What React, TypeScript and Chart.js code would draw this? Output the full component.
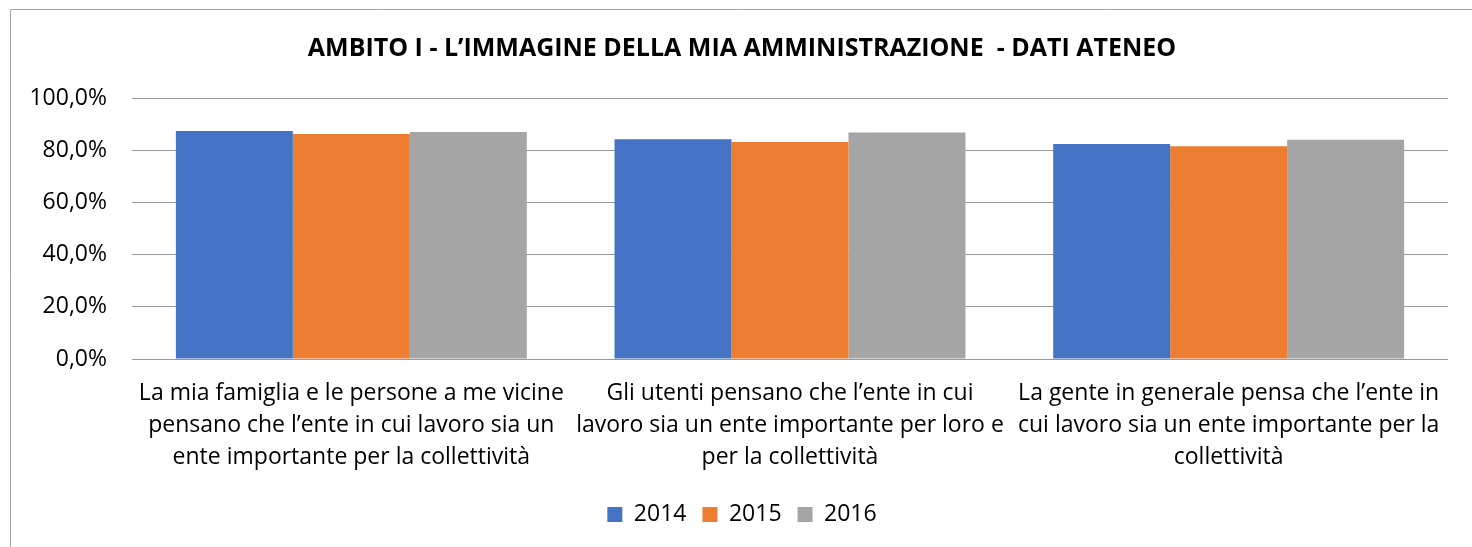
import React, { useEffect, useRef } from "react";
import { Chart, registerables } from "chart.js";

Chart.register(...registerables);

const titleText = "AMBITO I - L\u2019IMMAGINE DELLA MIA AMMINISTRAZIONE  - DATI ATENEO";
const categories: string[][] = [
  ["La mia famiglia e le persone a me vicine", "pensano che l\u2019ente in cui lavoro sia un", "ente importante per la collettività"],
  ["Gli utenti pensano che l\u2019ente in cui", "lavoro sia un ente importante per loro e", "per la collettività"],
  ["La gente in generale pensa che l\u2019ente in", "cui lavoro sia un ente importante per la", "collettività"],
];
const seriesNames = ["2014", "2015", "2016"];
const values2014 = [87.4, 84.2, 82.4];
const values2015 = [86.2, 83.1, 81.5];
const values2016 = [87.0, 86.8, 84.0];
const seriesColors = ["#4472C4", "#ED7D31", "#A5A5A5"];

const FONT = "'Open Sans', sans-serif";

const framePlugin = {
  id: "frame",
  afterLayout(chart: any) {
    // let y tick labels extend into the left padding without clipping
    if (chart.scales.y) chart.scales.y.left = 0;
  },
  beforeDraw(chart: any) {
    const ctx = chart.ctx;
    ctx.save();
    ctx.strokeStyle = "#a6a6a6";
    ctx.lineWidth = 1;
    ctx.beginPath();
    ctx.moveTo(10.5, chart.height + 5);
    ctx.lineTo(10.5, 9.5);
    ctx.lineTo(chart.width + 5, 9.5);
    ctx.stroke();
    ctx.restore();
  },
};

export default function App() {
  const ref = useRef<HTMLCanvasElement>(null);
  useEffect(() => {
    if (!ref.current) return;
    const data = [values2014, values2015, values2016];
    const chart = new Chart(ref.current, {
      type: "bar",
      data: {
        labels: categories,
        datasets: seriesNames.map((n, i) => ({
          label: n,
          data: data[i],
          backgroundColor: seriesColors[i],
          borderWidth: 0,
          categoryPercentage: 0.8,
          barPercentage: 1.0,
        })),
      },
      options: {
        animation: false,
        responsive: false,
        maintainAspectRatio: false,
        layout: { padding: { left: 36, right: 24, top: 0, bottom: 11 } },
        plugins: {
          title: {
            display: true,
            text: titleText,
            color: "#000",
            font: { family: FONT, size: 25, weight: "bold" },
            padding: { top: 34, bottom: 34 },
          },
          legend: {
            position: "bottom",
            labels: {
              color: "#000",
              font: { family: FONT, size: 23 },
              boxWidth: 15,
              boxHeight: 15,
              padding: 16,
            },
          },
          tooltip: { enabled: false },
        },
        scales: {
          x: {
            grid: { display: false },
            border: { display: false },
            ticks: {
              color: "#000",
              font: { family: FONT, size: 23, lineHeight: 1.4 },
              maxRotation: 0,
              autoSkip: false,
              padding: 10,
            },
            afterFit(scale: any) {
              scale.height = 128;
            },
          },
          y: {
            min: 0,
            max: 100,
            ticks: {
              stepSize: 20,
              color: "#000",
              font: { family: FONT, size: 23 },
              padding: 25,
              callback: (v: any) => Number(v).toFixed(1).replace(".", ",") + "%",
            },
            grid: { color: "#999999", lineWidth: 1, drawTicks: false },
            border: { display: false },
            afterFit(scale: any) {
              scale.width = 96;
            },
          },
        },
      },
      plugins: [framePlugin],
    });
    return () => chart.destroy();
  }, []);
  return (
    <div style={{ position: "fixed", left: 0, top: 0, width: 1472, height: 547, background: "#fff" }}>
      <canvas ref={ref} width={1472} height={547} style={{ width: 1472, height: 547 }} />
    </div>
  );
}
